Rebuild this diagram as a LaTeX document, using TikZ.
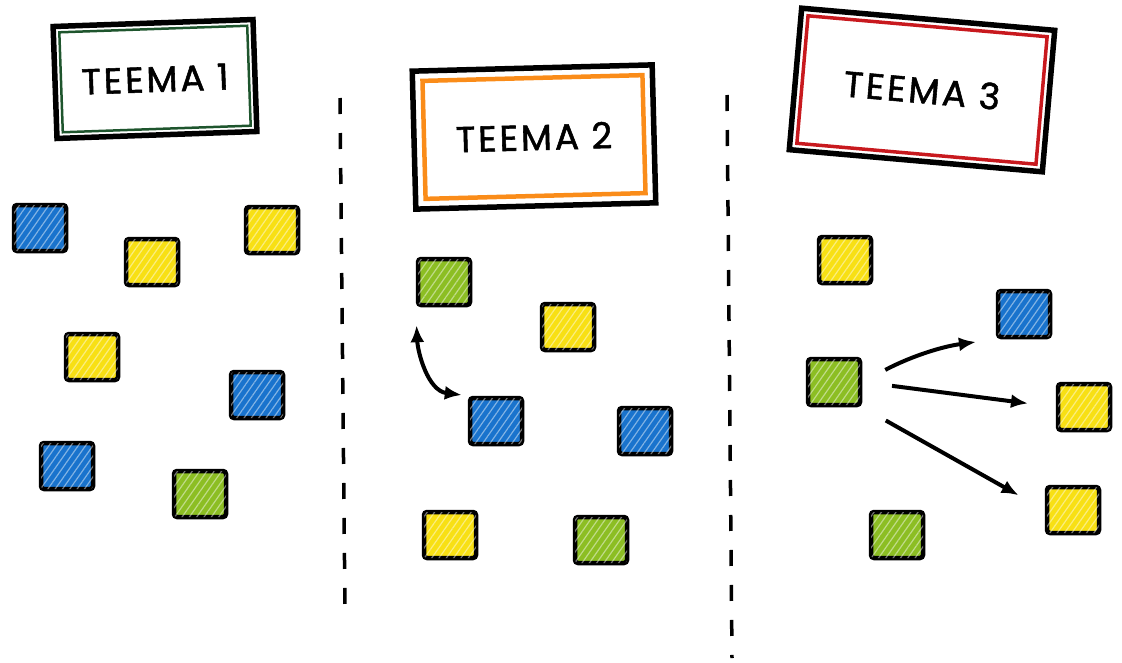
\documentclass[tikz,border=0pt]{standalone}
\usepackage{fontspec}
\usetikzlibrary{arrows.meta,patterns.meta}
\newfontfamily\teemafont[LetterSpace = 8, FakeBold = 1.5]{Poppins}
\definecolor{zettelblau}{RGB}{25,115,205}
\definecolor{zettelgelb}{RGB}{248,224,20}
\definecolor{zettelgruen}{RGB}{140,190,35}
\definecolor{rahmengruen}{RGB}{30,85,45}
\definecolor{rahmenorange}{RGB}{250,140,25}
\definecolor{rahmenrot}{RGB}{200,25,30}
\newcommand\zettelbreite{52pt}
\newcommand\zettelhoehe{46pt}

\tikzset{
	zettel/.style = {draw = black, line width = 4.5pt, rounded corners = 3pt, fill = #1,
		minimum width = \zettelbreite, minimum height = \zettelhoehe, inner sep = 0pt,
		postaction = {pattern = {Lines[angle = 55, distance = 6pt, line width = 1.2pt]}, pattern color = white, opacity = 0.45}},
	rahmen/.style = {draw = black, line width = 5.5pt},
	innenrahmen/.style = {draw = #1, line width = 3.5pt, font = \teemafont\fontsize{36pt}{38pt}\selectfont},
	trenner/.style = {line width = 3.5pt, dash pattern = on 16pt off 19pt},
	spitze/.tip = {Latex[length = 17pt, width = 14pt]},
	pfeil/.style = {line width = 4pt, -spitze},
}

\begin{document}
\begin{tikzpicture}[x = 1pt, y = -1pt]
	\useasboundingbox (0, 0) rectangle (1122, 662);

	% Themenkarten
	\node [rahmen, rotate = 2, minimum width = 200pt, minimum height = 112pt] (t1) at (155, 79) {};
	\node [innenrahmen = rahmengruen, line width = 2.5pt, rotate = 2, minimum width = 188pt, minimum height = 100pt] (t1text) at (t1) {TEEMA 1};
	\node [rahmen, rotate = 1.5, minimum width = 240pt, minimum height = 138pt] (t2) at (534, 137) {};
	\node [innenrahmen = rahmenorange, line width = 4.5pt, rotate = 1.5, minimum width = 220pt, minimum height = 118pt] (t2text) at (t2) {TEEMA 2};
	\node [rahmen, rotate = -5, minimum width = 254pt, minimum height = 142pt] (t3) at (922, 90) {};
	\node [innenrahmen = rahmenrot, rotate = -5, minimum width = 240pt, minimum height = 128pt] (t3text) at (t3) {TEEMA 3};

	% Trennlinien
	\draw [trenner] (340, 98) -- (345, 612);
	\draw [trenner] (727, 95) -- (732, 658);

	% Zettel
	\foreach \name/\x/\y/\farbe in {
		b1a/40/228/zettelblau, y1a/152/262/zettelgelb, y1b/272/230/zettelgelb,
		y1c/92/357/zettelgelb, b1b/257/395/zettelblau, b1c/67/466/zettelblau, g1a/200/494/zettelgruen,
		g2a/444/282/zettelgruen, y2a/568/327/zettelgelb, b2a/496/421/zettelblau,
		b2b/645/431/zettelblau, y2b/450/535/zettelgelb, g2b/601/540/zettelgruen,
		y3a/845/260/zettelgelb, b3a/1024/314/zettelblau, g3a/834/382/zettelgruen,
		y3b/1084/407/zettelgelb, y3c/1073/510/zettelgelb, g3b/897/535/zettelgruen} {
		\node [zettel = \farbe] (\name) at (\x, \y) {};
	}

	% Verbindungen
	\draw [pfeil, spitze-spitze, shorten < = 18pt, shorten > = 6pt]
		(g2a.south west) .. controls +(2, 45) and +(-40, -5) .. (b2a.north west);
	\draw [pfeil, shorten < = 26pt, shorten > = 20pt] (g3a.east) to [bend left = 10] (b3a.south west);
	\draw [pfeil, shorten < = 30pt, shorten > = 28pt] (g3a.east) -- (y3b.west);
	\draw [pfeil, shorten < = 27pt, shorten > = 30pt] (g3a.south east) -- (y3c.west);
\end{tikzpicture}
\end{document}
